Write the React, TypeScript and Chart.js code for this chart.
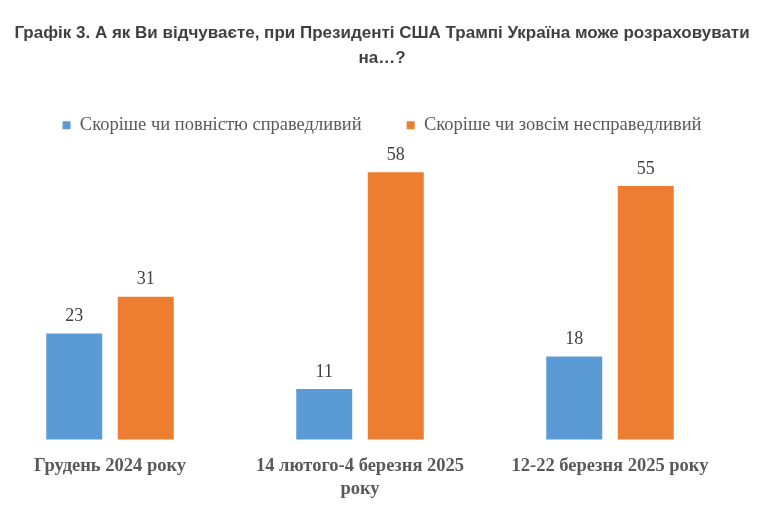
import { useEffect, useRef } from "react";
import Chart from "chart.js/auto";

const periods = [
  "Грудень 2024 року",
  ["14 лютого-4 березня 2025", "року"],
  "12-22 березня 2025 року",
];
const fairValues = [23, 11, 18];
const unfairValues = [31, 58, 55];

const titleLines = [
  "Графік 3. А як Ви відчуваєте, при Президенті США Трампі Україна може розраховувати",
  "на…?",
];

const serif = "'Liberation Serif', 'Times New Roman', serif";

export default function App() {
  const chartRef = useRef<HTMLCanvasElement>(null);

  useEffect(() => {
    if (!chartRef.current) return;

    const chart = new Chart(chartRef.current, {
      type: "bar",
      data: {
        labels: periods,
        datasets: [
          {
            label: "Скоріше чи повністю справедливий",
            data: fairValues,
            backgroundColor: "#5b9bd5",
            categoryPercentage: 0.572,
            barPercentage: 0.783,
            clip: false,
          },
          {
            label: "Скоріше чи зовсім несправедливий",
            data: unfairValues,
            backgroundColor: "#ed7d31",
            categoryPercentage: 0.572,
            barPercentage: 0.783,
            clip: false,
          },
        ],
      },
      options: {
        animation: false,
        responsive: true,
        maintainAspectRatio: false,
        layout: { padding: { top: 17, bottom: 7 } },
        plugins: {
          title: {
            display: true,
            text: titleLines,
            color: "#404040",
            font: {
              family: "'Liberation Sans', Arial, sans-serif",
              size: 17,
              weight: "bold",
              lineHeight: 1.47,
            },
            padding: { top: 4, bottom: 0 },
          },
          legend: {
            position: "top",
            labels: {
              boxWidth: 8,
              boxHeight: 8,
              padding: 45,
              color: "#595959",
              font: { family: serif, size: 18.5 },
            },
          },
          tooltip: { enabled: false },
        },
        scales: {
          x: {
            offset: false,
            grid: { display: false },
            border: { display: false },
            ticks: {
              color: "#595959",
              maxRotation: 0,
              autoSkip: false,
              padding: 8,
              font: { family: serif, size: 18.5, weight: "bold" },
            },
          },
          y: {
            min: 0,
            max: 64,
            grid: { display: false },
            border: { display: false },
            ticks: { display: false },
            afterFit: (scale) => {
              scale.width = 110;
            },
          },
          y2: {
            position: "right",
            grid: { display: false },
            border: { display: false },
            ticks: { display: false },
            afterFit: (scale) => {
              scale.width = 154;
            },
          },
        },
      },
      plugins: [
        {
          id: "valueLabels",
          afterDatasetsDraw(c) {
            const ctx = c.ctx;
            ctx.save();
            ctx.fillStyle = "#404040";
            ctx.font = `18px ${serif}`;
            ctx.textAlign = "center";
            ctx.textBaseline = "bottom";
            c.data.datasets.forEach((dataset, i) => {
              const meta = c.getDatasetMeta(i);
              meta.data.forEach((bar, j) => {
                ctx.fillText(String(dataset.data[j]), bar.x, bar.y - 8);
              });
            });
            ctx.restore();
          },
        },
      ],
    });

    return () => chart.destroy();
  }, []);

  return (
    <div style={{ position: "absolute", left: 0, top: 0, width: 764, height: 515, background: "#fff" }}>
      <canvas ref={chartRef}></canvas>
    </div>
  );
}
